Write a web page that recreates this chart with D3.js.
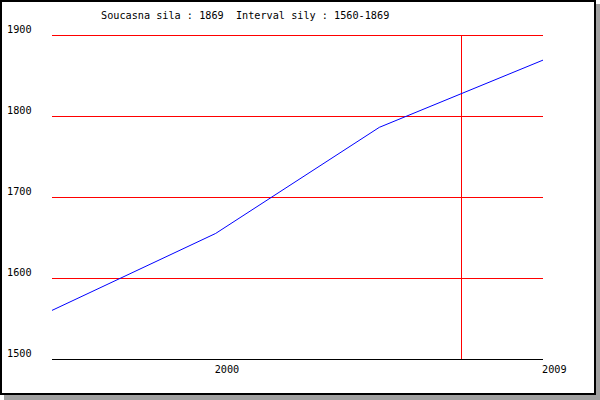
<!DOCTYPE html>
<html><head><meta charset="utf-8">
<script src="https://cdn.jsdelivr.net/npm/d3@7"></script>
<style>body{margin:0;background:#fff}svg{display:block}text{font-family:"DejaVu Sans Mono","Liberation Mono",monospace;font-size:10.2px;fill:#000}</style>
</head><body><svg id="c" width="600" height="400"></svg>
<script>
const titleText = "Soucasna sila : 1869  Interval sily : 1560-1869";
const years = [1995.5, 2000, 2004.5, 2009];
const values = [1560, 1655, 1786, 1869];
const xTicks = [2000, 2009];
const yTicks = [1500, 1600, 1700, 1800, 1900];
const markerYear = [2006.75];

const svg = d3.select("#c");
svg.append("rect").attr("x",4).attr("y",4).attr("width",596).attr("height",396).attr("fill","#a0a0a0");
svg.append("rect").attr("x",1).attr("y",1).attr("width",594).attr("height",393)
  .attr("fill","#fff").attr("stroke","#000").attr("stroke-width",2);

const x = d3.scaleLinear().domain([1995.5, 2009]).range([52, 543]);
const y = d3.scaleLinear().domain([1500, 1900]).range([359, 35]);

// grid lines
svg.append("g").selectAll("line").data(yTicks).join("line")
  .attr("x1",52).attr("x2",543)
  .attr("y1",d=>Math.round(y(d))+0.5).attr("y2",d=>Math.round(y(d))+0.5)
  .attr("stroke",d=>d===1500?"#000":"#ff0000").attr("stroke-width",1)
  .attr("shape-rendering","crispEdges");

// marker vertical line
svg.append("g").selectAll("line").data(markerYear).join("line")
  .attr("x1",d=>Math.round(x(d))+0.5).attr("x2",d=>Math.round(x(d))+0.5)
  .attr("y1",y(1900)).attr("y2",y(1500))
  .attr("stroke","#ff0000").attr("stroke-width",1).attr("shape-rendering","crispEdges");

// y labels
svg.append("g").selectAll("text").data(yTicks).join("text")
  .attr("x",7).attr("y",d=>y(d)-2).text(d=>d);

// x labels
svg.append("g").selectAll("text").data(xTicks).join("text")
  .attr("x",d=>x(d)-1).attr("y",373).text(d=>d);

// data line
const pts = years.map((yr,i)=>[yr, values[i]]);
svg.append("path").datum(pts)
  .attr("d", d3.line().x(d=>x(d[0])).y(d=>y(d[1])))
  .attr("fill","none").attr("stroke","#0000ff").attr("stroke-width",1);

// title
svg.append("text").attr("x",101).attr("y",19).text(titleText).attr("xml:space","preserve").style("white-space","pre");
</script></body></html>
